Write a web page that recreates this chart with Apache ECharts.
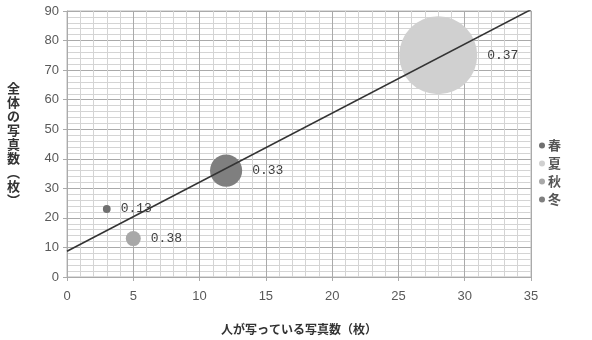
<!DOCTYPE html>
<html><head><meta charset="utf-8">
<script src="https://cdn.jsdelivr.net/npm/echarts@6/dist/echarts.min.js"></script>
<style>html,body{margin:0;padding:0;background:#fff}#c{width:592px;height:340px}</style>
</head><body><div id="c"></div>
<script>
const seasons = ['春', '夏', '秋', '冬'];
const xValues = [3, 28, 5, 12];
const yValues = [23, 75, 13, 36];
const bubbleSizes = [1, 100, 3.7, 17];
const pointLabels = ['0.13', '0.37', '0.38', '0.33'];
const seasonColors = ['#707070', '#d0d0d0', '#a8a8a8', '#7f7f7f'];
const trendX = [0, 35];
const trendY = [8.7, 90.5];
const xTicks = [0, 5, 10, 15, 20, 25, 30, 35];
const yTicks = [0, 10, 20, 30, 40, 50, 60, 70, 80, 90];

const maxSize = Math.max(...bubbleSizes);
const maxDiameter = 78;
const chart = echarts.init(document.getElementById('c'), null, {renderer: 'canvas'});
const series = seasons.map((s, i) => ({
  name: s,
  type: 'scatter',
  data: [[xValues[i], yValues[i], bubbleSizes[i]]],
  symbolSize: d => maxDiameter * Math.sqrt(d[2] / maxSize),
  itemStyle: {color: seasonColors[i], opacity: 1},
  label: {
    show: true, position: 'right', distance: 10,
    formatter: () => pointLabels[i],
    fontFamily: 'Liberation Mono, DejaVu Sans Mono, monospace',
    fontSize: 13, color: '#404040'
  },
  z: 2
}));
series.push({
  type: 'line',
  data: trendX.map((x, i) => [x, trendY[i]]),
  symbol: 'none',
  lineStyle: {color: '#333', width: 1.5},
  clip: true,
  z: 5,
  silent: true
});
chart.setOption({
  animation: false,
  backgroundColor: '#fff',
  grid: {left: 67, right: 61, top: 11, bottom: 59, show: true, borderColor: '#bbb', borderWidth: 1},
  legend: {
    data: seasons.map((s, i) => ({name: s, itemStyle: {color: seasonColors[i]}})),
    orient: 'vertical', left: 534, top: 134,
    icon: 'circle', itemWidth: 6, itemHeight: 6, itemGap: 5,
    textStyle: {fontFamily: 'Noto Sans CJK JP', fontSize: 13, fontWeight: 'bold', color: '#555', padding: [0, 0, 0, -2]}
  },
  xAxis: {
    type: 'value', min: xTicks[0], max: xTicks[xTicks.length - 1], interval: 5,
    name: '人が写っている写真数（枚）', nameLocation: 'middle', nameGap: 46,
    nameTextStyle: {fontFamily: 'Noto Sans CJK JP', fontSize: 12, fontWeight: 'bold', color: '#333'},
    axisLine: {show: true, lineStyle: {color: '#aaa'}},
    axisTick: {show: true, length: 4, lineStyle: {color: '#aaa'}},
    axisLabel: {margin: 13, fontFamily: 'Liberation Sans', fontSize: 13, color: '#595959'},
    splitLine: {show: true, lineStyle: {color: '#aaaaaa', width: 1}},
    minorTick: {show: false, splitNumber: 5},
    minorSplitLine: {show: true, lineStyle: {color: '#d4d4d4', width: 1}}
  },
  yAxis: {
    type: 'value', min: yTicks[0], max: yTicks[yTicks.length - 1], interval: 10,
    name: '全\n体\nの\n写\n真\n数\n︵\n枚\n︶', nameLocation: 'middle', nameGap: 47, nameRotate: 0,
    nameTextStyle: {fontFamily: 'Noto Sans CJK JP', fontSize: 13, fontWeight: 'bold', color: '#333', lineHeight: 14},
    axisLine: {show: true, lineStyle: {color: '#aaa'}},
    axisTick: {show: true, length: 4, lineStyle: {color: '#aaa'}},
    axisLabel: {margin: 8, fontFamily: 'Liberation Sans', fontSize: 13, color: '#595959'},
    splitLine: {show: true, lineStyle: {color: '#aaaaaa', width: 1}},
    minorTick: {show: false, splitNumber: 5},
    minorSplitLine: {show: true, lineStyle: {color: '#d4d4d4', width: 1}}
  },
  series: series
});
</script></body></html>
